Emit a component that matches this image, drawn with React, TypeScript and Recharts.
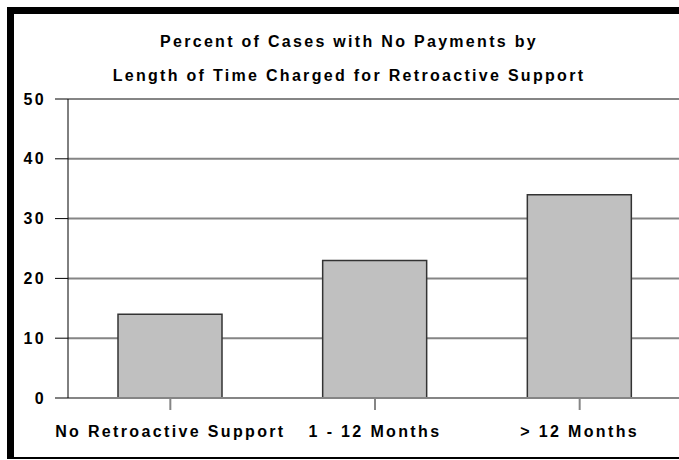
import React from 'react';
import { BarChart, Bar, XAxis, YAxis, CartesianGrid } from 'recharts';

// Share of cases with no payments, by length of time charged for retroactive support
const categories = ['No Retroactive Support', '1 - 12 Months', '> 12 Months'];
const percentNoPayments = [14, 23, 34];
const yTicks = [0, 10, 20, 30, 40, 50];
const titleLines = [
  'Percent of Cases with No Payments by',
  'Length of Time Charged for Retroactive Support',
];

const data = categories.map((name, i) => ({ name, value: percentNoPayments[i] }));

const FONT = '"Liberation Sans", Arial, sans-serif';
const textStyle = { fontFamily: FONT, fontWeight: 700, fontSize: 16, fill: '#000', letterSpacing: 2.35 };

const App: React.FC = () => {
  return (
    <div style={{ position: 'absolute', left: 0, top: 0, width: 679, height: 460, background: '#fff', overflow: 'hidden' }}>
      {/* frame: heavy top/left edge, thin bottom */}
      <div
        style={{
          position: 'absolute',
          left: 7,
          top: 7,
          width: 679,
          height: 452,
          borderTop: '7px solid #000',
          borderLeft: '7px solid #000',
          borderBottom: '2px solid #000',
          boxSizing: 'border-box',
        }}
      />
      {titleLines.map((line, i) => (
        <div
          key={i}
          style={{
            position: 'absolute',
            left: 0,
            width: 698,
            top: 33 + i * 34,
            textAlign: 'center',
            fontFamily: FONT,
            fontWeight: 700,
            fontSize: 16,
            letterSpacing: 2.3,
            lineHeight: '18px',
            color: '#000',
          }}
        >
          {line}
        </div>
      ))}
      <div style={{ position: 'absolute', left: 0, top: 0 }}>
        <BarChart
          width={679}
          height={460}
          data={data}
          margin={{ top: 99, right: -3, bottom: 32, left: 0 }}
          barSize={104}
        >
          <CartesianGrid horizontal vertical={false} stroke="#858585" strokeWidth={2} />
          <XAxis
            dataKey="name"
            stroke="#858585"
            strokeWidth={2}
            tickSize={12}
            tickMargin={16}
            tick={textStyle}
            interval={0}
          />
          <YAxis
            domain={[0, 50]}
            ticks={yTicks}
            width={68}
            stroke="#000"
            tickSize={13}
            tickMargin={9}
            tick={textStyle}
            interval={0}
          />
          <Bar dataKey="value" fill="#c0c0c0" stroke="#333" strokeWidth={1.5} isAnimationActive={false} />
        </BarChart>
      </div>
    </div>
  );
};

export default App;
